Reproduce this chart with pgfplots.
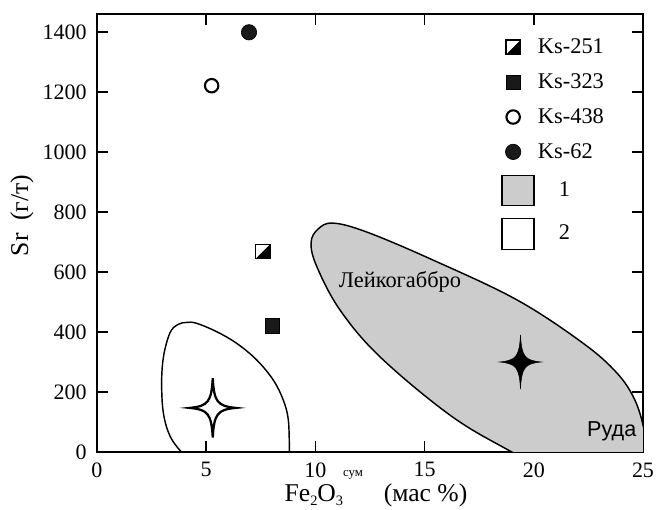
\documentclass[border=0pt]{standalone}
\usepackage{fontspec}
\setmainfont{Liberation Serif}
\newfontfamily\sansf{Liberation Sans}
\usepackage{pgfplots}
\pgfplotsset{compat=1.18}
\definecolor{fieldgray}{RGB}{204,204,204}

% half-filled square: lower-right half black
\pgfdeclareplotmark{halfsq}{%
  \pgfpathmoveto{\pgfqpoint{-\pgfplotmarksize}{-\pgfplotmarksize}}%
  \pgfpathlineto{\pgfqpoint{\pgfplotmarksize}{-\pgfplotmarksize}}%
  \pgfpathlineto{\pgfqpoint{\pgfplotmarksize}{\pgfplotmarksize}}%
  \pgfpathclose
  \pgfusepathqfill
  \pgfpathrectangle{\pgfqpoint{-\pgfplotmarksize}{-\pgfplotmarksize}}{\pgfqpoint{2\pgfplotmarksize}{2\pgfplotmarksize}}%
  \pgfusepathqstroke
}
% four-pointed star; \starw, \starv are half width/height
\newdimen\starw \newdimen\starv
\pgfdeclareplotmark{star4}{%
  \pgfpathmoveto{\pgfqpoint{0pt}{\starv}}%
  \pgfpathcurveto{\pgfqpoint{0.06\starw}{0.2\starv}}{\pgfqpoint{0.2\starw}{0.06\starv}}{\pgfqpoint{\starw}{0pt}}%
  \pgfpathcurveto{\pgfqpoint{0.2\starw}{-0.06\starv}}{\pgfqpoint{0.06\starw}{-0.2\starv}}{\pgfqpoint{0pt}{-\starv}}%
  \pgfpathcurveto{\pgfqpoint{-0.06\starw}{-0.2\starv}}{\pgfqpoint{-0.2\starw}{-0.06\starv}}{\pgfqpoint{-\starw}{0pt}}%
  \pgfpathcurveto{\pgfqpoint{-0.2\starw}{0.06\starv}}{\pgfqpoint{-0.06\starw}{0.2\starv}}{\pgfqpoint{0pt}{\starv}}%
  \pgfpathclose
  \pgfusepathqfillstroke
}
\newcommand\smallsub[1]{\raisebox{-2pt}{\fontsize{9}{9}\selectfont #1}}

\begin{document}
\begin{tikzpicture}
\begin{axis}[
  scale only axis, width=341.25pt, height=273.75pt,
  xmin=0, xmax=25, ymin=0, ymax=1460,
  xtick={0,5,...,25}, ytick={0,200,...,1400},
  tick align=inside, major tick length=7pt,
  axis line style={line width=1.2pt},
  every tick/.style={line width=1pt, black},
  tick label style={font=\fontsize{13.75}{16}\selectfont},
  /pgf/number format/assume math mode=true,
  /pgf/number format/1000 sep={},
  xticklabel style={yshift=-3pt},
  yticklabel style={xshift=-3pt},
  xlabel={Fe\smallsub{2}O\smallsub{3}\raisebox{16pt}{\fontsize{8}{8}\selectfont сум}\hspace{13pt}(мас \%)},
  ylabel={Sr\ \ (г/т)},
  label style={font=\fontsize{16}{18}\selectfont},
  xlabel style={at={(axis description cs:0.5,0)}, anchor=base, yshift=-31.25pt, xshift=3.75pt},
  ylabel style={at={(axis description cs:-0.1374,0.54)}, anchor=center},
  legend style={draw=none, fill=none, at={(axis cs:18.28,1400)}, anchor=north west,
    font=\fontsize{14}{16}\selectfont, row sep=7pt},
  legend cell align=left,
]
% field 1 (grey ellipse)
\addplot[forget plot, draw=black, line width=0.9pt, fill=fieldgray, smooth cycle, tension=0.6] coordinates {
 (9.80,697) (10.12,743) (10.81,763) (12.36,733) (15.38,640) (19.23,507) (22.25,363)
 (23.81,263) (24.63,173) (25.05,73) (25.09,7) (24.77,-60) (23.95,-103) (22.80,-113)
 (21.20,-80) (18.82,7) (16.16,123) (12.96,317) (11.13,473) (10.07,617)
};
% field 2 (open curve)
\addplot[forget plot, draw=black, line width=0.9pt, smooth, tension=0.6] coordinates {
 (4.05,-15) (3.40,45) (3.05,125) (2.96,230) (3.05,320)
 (3.34,397) (3.70,425) (4.11,432) (4.56,429) (5.48,401) (6.40,362) (7.31,307)
 (8.07,240) (8.53,173) (8.76,107) (8.81,7) (8.81,-27)
};
% averages (stars)
\addplot[forget plot, only marks, mark=star4, line width=1.4pt, draw=black, fill=white,
  /utils/exec={\global\starw=14.4pt \global\starv=18.6pt}] coordinates {(5.30,147)};
\addplot[forget plot, only marks, mark=star4, line width=0.3pt, draw=black, fill=black,
  /utils/exec={\global\starw=13.1pt \global\starv=16.9pt}] coordinates {(19.39,300)};
% samples
\addplot[only marks, mark=halfsq, mark size=4.5pt, draw=black, fill=black, line width=0.8pt]
  coordinates {(7.59,668)};
\addlegendentry{Ks-251}
\addplot[only marks, mark=square*, mark size=4.5pt, draw=black, fill=black!90]
  coordinates {(8.04,420)};
\addlegendentry{Ks-323}
\addplot[only marks, mark=o, mark size=4.2pt, draw=black, line width=1.3pt, fill=white]
  coordinates {(5.25,1221)};
\addlegendentry{Ks-438}
\addplot[only marks, mark=*, mark size=4.8pt, draw=black, fill=black!90]
  coordinates {(6.96,1399)};
\addlegendentry{Ks-62}
\addlegendimage{legend image code/.code={\draw[fill=fieldgray, line width=0.9pt] (1.6pt,-9.4pt) rectangle (21.6pt,9.4pt);}}
\addlegendentry{\hspace{13pt}1}
\addlegendimage{legend image code/.code={\draw[fill=white, line width=0.9pt] (1.6pt,-10pt) rectangle (21.6pt,9.4pt);}}
\addlegendentry{\hspace{13pt}2}
\node[font=\fontsize{14}{16}\selectfont] at (axis cs:13.87,567) {Лейкогаббро};
\node[font=\sansf\fontsize{13.5}{16}\selectfont] at (axis cs:23.57,70) {Руда};
\end{axis}
\pgfresetboundingbox
\path[use as bounding box] (-60.625pt,-36.25pt) rectangle (349.375pt,282.5pt);
\end{tikzpicture}
\end{document}
